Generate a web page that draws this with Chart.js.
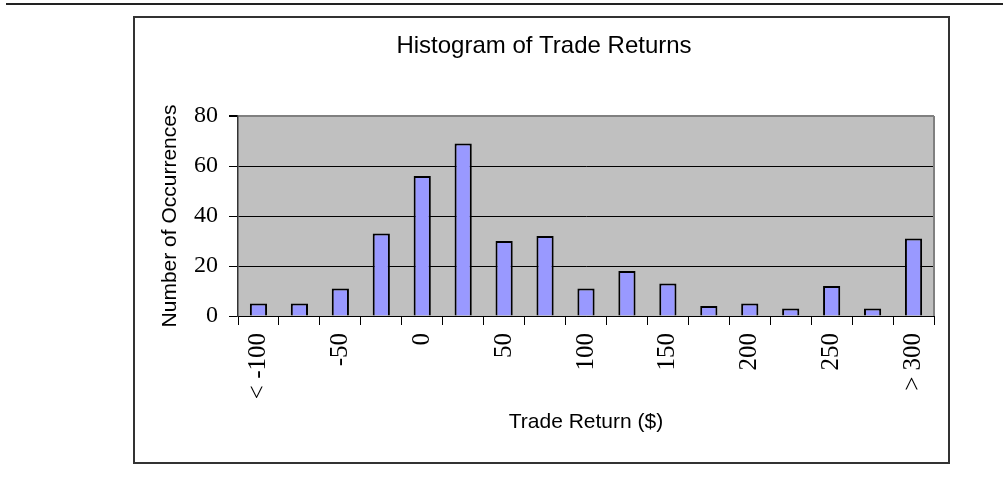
<html lang="en">
<head>
    <meta charset="UTF-8">
    <title>Histogram of Trade Returns</title>
    <script src="https://cdn.jsdelivr.net/npm/chart.js"></script>
    <style>
        body { margin: 0; background: #fff; }
        #linea { position: absolute; left: 6px; right: 0; top: 3px; height: 2px; background: #222; }
        #marco { position: absolute; left: 133px; top: 16px; width: 817px; height: 448px; box-sizing: border-box; border: 2px solid #333; }
        #grafico { position: absolute; left: 0; top: 0; }
    </style>
</head>
<body>
    <div id="linea"></div>
    <div id="marco"></div>
    <canvas id="grafico" width="1003" height="477"></canvas>

    <script>
        // bins de retorno (solo se rotula uno de cada dos, como en el original)
        var categorias = ['< -100', '', '-50', '', '0', '', '50', '', '100', '', '150', '', '200', '', '250', '', '> 300'];
        var ocurrencias = [5, 5, 11, 33, 56, 69, 30, 32, 11, 18, 13, 4, 5, 3, 12, 3, 31];
        var ticksY = [0, 20, 40, 60, 80];

        // fondo gris del area de trazado y borde gris derecho
        var fondoPlot = {
            id: 'fondoPlot',
            beforeDraw: function (chart) {
                var a = chart.chartArea, ctx = chart.ctx;
                ctx.save();
                ctx.fillStyle = '#C0C0C0';
                ctx.fillRect(a.left, a.top, a.right - a.left, a.bottom - a.top);
                ctx.restore();
            },
            afterDraw: function (chart) {
                var a = chart.chartArea, ctx = chart.ctx;
                ctx.save();
                ctx.strokeStyle = '#808080';
                ctx.lineWidth = 2;
                ctx.beginPath();
                ctx.moveTo(a.right, a.top);
                ctx.lineTo(a.right, a.bottom);
                ctx.stroke();
                ctx.restore();
            }
        };

        var ctx = document.getElementById('grafico').getContext('2d');
        var grafico = new Chart(ctx, {
            type: 'bar',
            data: {
                labels: categorias,
                datasets: [{
                    data: ocurrencias,
                    backgroundColor: '#9999FF',
                    borderColor: '#000',
                    borderWidth: 2,
                    barPercentage: 0.42,
                    categoryPercentage: 1.0
                }]
            },
            options: {
                responsive: false,
                animation: false,
                layout: { padding: { left: 154, right: 69, top: 20, bottom: 20 } },
                plugins: {
                    legend: { display: false },
                    tooltip: { enabled: false },
                    title: {
                        display: true,
                        text: 'Histogram of Trade Returns',
                        color: '#000',
                        font: { family: 'Liberation Sans', size: 24, weight: 'normal' },
                        padding: { top: 12, bottom: 55.2 }
                    }
                },
                scales: {
                    x: {
                        afterFit: function (s) { s.height = 141; },
                        grid: { drawOnChartArea: false, offset: true, tickLength: 9, color: '#000', lineWidth: 1 },
                        border: { color: '#000', width: 1 },
                        ticks: {
                            autoSkip: false,
                            minRotation: 90,
                            maxRotation: 90,
                            padding: 8,
                            color: '#000',
                            font: { family: 'Liberation Serif', size: 25 }
                        },
                        title: {
                            display: true,
                            text: 'Trade Return ($)',
                            color: '#000',
                            font: { family: 'Liberation Sans', size: 21 },
                            padding: { top: 0, bottom: 22 }
                        }
                    },
                    y: {
                        min: 0,
                        max: 80,
                        afterFit: function (s) { s.width = 84; },
                        afterBuildTicks: function (s) { s.ticks = ticksY.map(function (v) { return { value: v }; }); },
                        grid: {
                            color: function (c) { return c.tick.value === 80 ? '#808080' : '#000'; },
                            lineWidth: function (c) { return c.tick.value === 80 ? 2 : 1; },
                            tickColor: '#000',
                            tickLength: 9
                        },
                        border: { color: '#333', width: 1.5 },
                        ticks: {
                            padding: 11,
                            color: '#000',
                            font: { family: 'Liberation Serif', size: 24 }
                        },
                        title: {
                            display: true,
                            text: 'Number of Occurrences',
                            color: '#000',
                            font: { family: 'Liberation Sans', size: 21 },
                            padding: { top: 4, bottom: 4 }
                        }
                    }
                }
            },
            plugins: [fondoPlot]
        });
    </script>
</body>
</html>
